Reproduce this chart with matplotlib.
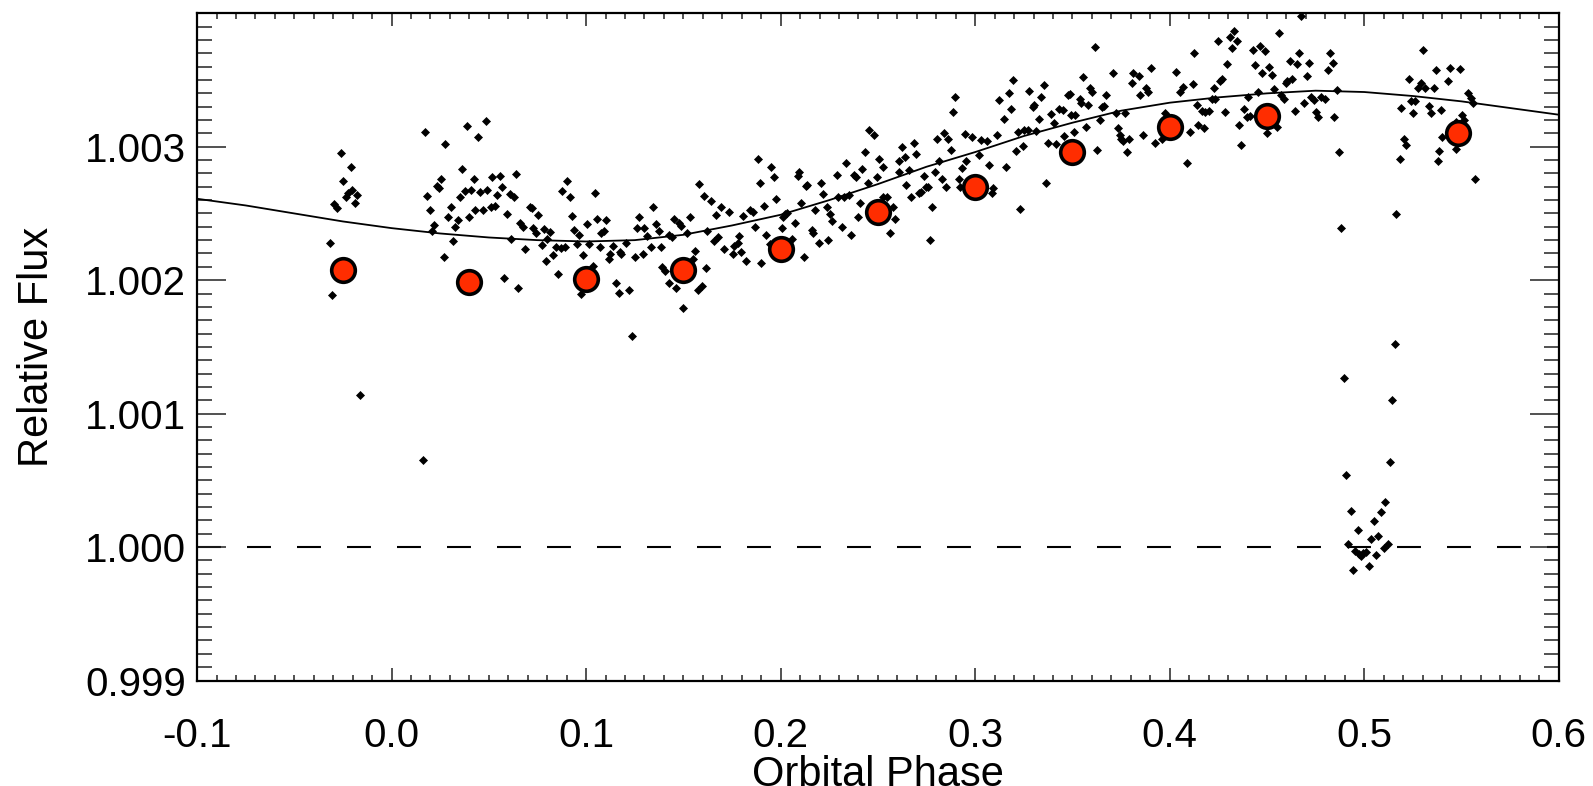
import matplotlib
matplotlib.use("Agg")
import matplotlib.pyplot as plt
from matplotlib.ticker import MultipleLocator, FormatStrFormatter, FixedLocator

plt.rcParams['font.family'] = ['Liberation Sans', 'DejaVu Sans']
plt.rcParams['axes.unicode_minus'] = False

# ---- individual observations (phase, relative flux) ----
obs_phase = [
    -0.0258, -0.0210, -0.0248, -0.0205, -0.0222, -0.0236, -0.0176, -0.0188, -0.0296, -0.0279, -0.0317, -0.0305, -0.0163, 0.0160,
    0.0172, 0.0277, 0.0386, 0.0483, 0.0446, 0.0364, 0.0422, 0.0255, 0.0233, 0.0243, 0.0183, 0.0195, 0.0350, 0.0376, 0.0410,
    0.0457, 0.0493, 0.0517, 0.0557, 0.0567, 0.0543, 0.0608, 0.0629, 0.0639, 0.0303, 0.0290, 0.0340, 0.0326, 0.0398, 0.0431,
    0.0470, 0.0510, 0.0531, 0.0591, 0.0220, 0.0207, 0.0315, 0.0267, 0.0613, 0.0711, 0.0724, 0.0755, 0.0660, 0.0677, 0.0729,
    0.0742, 0.0686, 0.0579, 0.0650,
    0.0781, 0.0815, 0.0798, 0.0772, 0.0846, 0.0870, 0.0893, 0.0832, 0.0794, 0.0853, 0.0901, 0.0875, 0.0915, 0.0927, 0.0936,
    0.0961, 0.0953, 0.0984, 0.1013, 0.1004, 0.1044, 0.1056, 0.1104, 0.1090, 0.1078, 0.1070, 0.1035, 0.0973, 0.1139, 0.1125,
    0.1117, 0.1180, 0.1173, 0.1203, 0.1156, 0.1168, 0.1220, 0.1249, 0.1272, 0.1263, 0.1297, 0.1315, 0.1332, 0.1344, 0.1358,
    0.1375, 0.1384, 0.1294, 0.1392, 0.1404, 0.1427, 0.1461, 0.1452, 0.1478, 0.1487, 0.1535, 0.1427, 0.1444, 0.1521, 0.1559,
    0.1547, 0.1616, 0.1595, 0.1573, 0.1499, 0.1237, 0.1580, 0.1607, 0.1641, 0.1667, 0.1693, 0.1737, 0.1624, 0.1659, 0.1676,
    0.1711, 0.1754, 0.1762, 0.1780, 0.1788, 0.1797, 0.1823, 0.1805, 0.1840, 0.1857, 0.1866, 0.1883, 0.1892, 0.1897,
    0.1952, 0.1966, 0.1978, 0.1917, 0.2024, 0.2012, 0.2035, 0.2073, 0.2007, 0.1926, 0.1943, 0.2056, 0.2121, 0.2087, 0.2093,
    0.2138, 0.2128, 0.2107, 0.2207, 0.2219, 0.2179, 0.2236, 0.2253, 0.2266, 0.2159, 0.2167, 0.2196, 0.2241, 0.2314, 0.2362,
    0.2288, 0.2334, 0.2379, 0.2386, 0.2417, 0.2434, 0.2455, 0.2478, 0.2504, 0.2524, 0.2448, 0.2495, 0.2297, 0.2328, 0.2352,
    0.2409, 0.2396, 0.2524, 0.2546, 0.2576, 0.2589, 0.2563, 0.2607, 0.2624, 0.2638, 0.2684, 0.2696, 0.2658, 0.2609, 0.2736,
    0.2645, 0.2719, 0.2672, 0.2710, 0.2745, 0.2758, 0.2779, 0.2767, 0.2805, 0.2839, 0.2860, 0.2877, 0.2814, 0.2793, 0.2831,
    0.2848, 0.2888, 0.2896, 0.2917, 0.2920, 0.2934, 0.2955, 0.2948, 0.2985, 0.3020, 0.3029,
    0.3094, 0.3089, 0.3614, 0.3196, 0.3172, 0.3123, 0.3184, 0.3149, 0.3110, 0.3063, 0.3072, 0.3158, 0.3210, 0.3244, 0.3218,
    0.3253, 0.3270, 0.3313, 0.3278, 0.3295, 0.3304, 0.3339, 0.3352, 0.3327, 0.3365, 0.3230, 0.3390, 0.3407, 0.3433, 0.3451,
    0.3373, 0.3416, 0.3459, 0.3494, 0.3511, 0.3477, 0.3485, 0.3537, 0.3546, 0.3554, 0.3580, 0.3589, 0.3603, 0.3568, 0.3506,
    0.3640, 0.3626, 0.3654, 0.3661, 0.3675, 0.3710, 0.3723, 0.3735, 0.3770, 0.3744, 0.3752, 0.3761, 0.3792, 0.3782, 0.3804,
    0.3813, 0.3844, 0.3847, 0.3878, 0.3890, 0.3902, 0.3864, 0.3924, 0.3959, 0.3976, 0.4033, 0.4067, 0.4053, 0.4119, 0.4127,
    0.4139, 0.4165, 0.4148, 0.4105, 0.4091,
    0.4247, 0.4308, 0.4333, 0.4347, 0.4321, 0.4295, 0.4269, 0.4257, 0.4226, 0.4217, 0.4234, 0.4200, 0.4183, 0.4174, 0.4286,
    0.4355, 0.4381, 0.4395, 0.4415, 0.4403, 0.4367, 0.4429, 0.4463, 0.4488, 0.4441, 0.4476, 0.4510, 0.4527, 0.4453, 0.4562,
    0.4536, 0.4574, 0.4588, 0.4498, 0.4550, 0.4596, 0.4605, 0.4631, 0.4619, 0.4665, 0.4653, 0.4717, 0.4705, 0.4643, 0.4691,
    0.4726, 0.4740, 0.4751, 0.4763, 0.4777, 0.4798, 0.4826, 0.4838, 0.4812, 0.4847, 0.4861, 0.4872, 0.4881, 0.4677, 0.5165,
    0.5182, 0.5204, 0.5216, 0.5190, 0.5228, 0.5251, 0.5277, 0.5291, 0.5303, 0.5311, 0.5332, 0.5342, 0.5359, 0.5371, 0.5380,
    0.5397, 0.5401, 0.5239, 0.5263,
    0.5440, 0.5493, 0.5429, 0.5532, 0.5550, 0.5559, 0.5505, 0.5515, 0.5470, 0.5470, 0.5568, 0.5386,
    0.5160, 0.4894, 0.5144, 0.5134, 0.4906, 0.4932, 0.5109, 0.5087, 0.5049, 0.4967, 0.4918, 0.5035, 0.5073, 0.5121, 0.5100,
    0.4954, 0.4975, 0.4993, 0.5010, 0.4984, 0.5061, 0.5027, 0.4941,
]
obs_flux = [
    1.00295, 1.00285, 1.002745, 1.002675, 1.00265, 1.00262, 1.00264, 1.00258, 1.00257, 1.00254, 1.002275, 1.00189, 1.001143, 1.00065,
    1.00311, 1.00302, 1.003155, 1.003195, 1.00307, 1.00283, 1.00276, 1.002755, 1.002705, 1.00269, 1.00263, 1.002525, 1.00262, 1.00267, 1.002675,
    1.00266, 1.002675, 1.00277, 1.00278, 1.002695, 1.00264, 1.002645, 1.002625, 1.002795, 1.002545, 1.00247, 1.00245, 1.002395, 1.002475, 1.002525,
    1.002525, 1.002545, 1.002555, 1.002495, 1.00241, 1.00237, 1.00229, 1.002175, 1.00231, 1.002545, 1.00254, 1.00249, 1.002425, 1.0024, 1.00239,
    1.00235, 1.00223, 1.00202, 1.00194,
    1.00238, 1.00236, 1.00231, 1.00226, 1.00225, 1.00224, 1.00225, 1.00219, 1.00214, 1.002045, 1.002745, 1.00267, 1.00262, 1.00248, 1.002375,
    1.00234, 1.00227, 1.00219, 1.00227, 1.00242, 1.00265, 1.00246, 1.00245, 1.00237, 1.00235, 1.00225, 1.002105, 1.001895, 1.002255, 1.002195,
    1.00216, 1.002195, 1.00221, 1.00228, 1.00198, 1.001905, 1.001925, 1.00217, 1.00247, 1.00239, 1.00239, 1.00233, 1.00225, 1.002545, 1.00242,
    1.00237, 1.00225, 1.002195, 1.0021, 1.00207, 1.00198, 1.00194, 1.00246, 1.00243, 1.002405, 1.00247, 1.00234, 1.00232, 1.002355, 1.00222,
    1.002155, 1.00209, 1.00196, 1.001925, 1.001795, 1.00158, 1.00272, 1.00263, 1.002595, 1.00249, 1.002545, 1.00251, 1.00237, 1.00229, 1.00232,
    1.00223, 1.002195, 1.002255, 1.002275, 1.00233, 1.00221, 1.00214, 1.00248, 1.002525, 1.00251, 1.0024, 1.002905, 1.00273, 1.002125,
    1.002845, 1.00277, 1.00261, 1.002555, 1.002495, 1.002475, 1.002505, 1.00243, 1.00239, 1.00234, 1.00227, 1.00231, 1.00217, 1.00278, 1.00281,
    1.00271, 1.002705, 1.002575, 1.00273, 1.002645, 1.002525, 1.00255, 1.002495, 1.00244, 1.002375, 1.002355, 1.00228, 1.0023, 1.0024, 1.00234,
    1.00279, 1.002875, 1.00279, 1.00277, 1.00283, 1.00296, 1.003125, 1.00309, 1.002905, 1.00285, 1.00273, 1.00277, 1.002625, 1.002625, 1.00264,
    1.00258, 1.00247, 1.00262, 1.002625, 1.00255, 1.002455, 1.002355, 1.002895, 1.003, 1.002925, 1.00303, 1.002945, 1.002825, 1.00281, 1.00278,
    1.00271, 1.00266, 1.002625, 1.00265, 1.0027, 1.0027, 1.00255, 1.0023, 1.003055, 1.003105, 1.00306, 1.002975, 1.002895, 1.00281, 1.002755,
    1.0027, 1.00326, 1.00337, 1.00276, 1.0027, 1.00284, 1.00289, 1.003095, 1.00307, 1.00294, 1.00305,
    1.00269, 1.002655, 1.003745, 1.0035, 1.003405, 1.00335, 1.00328, 1.003205, 1.00309, 1.003045, 1.00286, 1.00285, 1.00297, 1.003005, 1.00311,
    1.003125, 1.003125, 1.00312, 1.00342, 1.0033, 1.00331, 1.00337, 1.00346, 1.00321, 1.00273, 1.00253, 1.003245, 1.00318, 1.00328, 1.003275,
    1.00303, 1.00302, 1.00308, 1.00324, 1.00324, 1.00339, 1.003395, 1.003355, 1.003325, 1.003525, 1.00331, 1.00344, 1.00341, 1.003145, 1.00311,
    1.0032, 1.002975, 1.003295, 1.003305, 1.00339, 1.00355, 1.003255, 1.00314, 1.00325, 1.00309, 1.003055, 1.00304, 1.00306, 1.00296, 1.00348,
    1.00355, 1.00353, 1.00339, 1.00344, 1.00341, 1.00359, 1.00309, 1.00303, 1.00306, 1.003255, 1.00356, 1.00345, 1.00341, 1.00347, 1.003705,
    1.00331, 1.00327, 1.00316, 1.00311, 1.00288,
    1.003795, 1.003825, 1.00387, 1.00379, 1.00374, 1.00362, 1.00351, 1.003495, 1.00344, 1.00336, 1.00336, 1.00327, 1.00326, 1.00314, 1.00326,
    1.00316, 1.00328, 1.00322, 1.00323, 1.00337, 1.00301, 1.003725, 1.003755, 1.00372, 1.00361, 1.00355, 1.003595, 1.00354, 1.00341, 1.003855,
    1.00343, 1.00339, 1.003355, 1.003105, 1.003145, 1.003475, 1.00349, 1.003505, 1.003645, 1.003705, 1.00362, 1.00363, 1.00353, 1.00327, 1.00333,
    1.00337, 1.00335, 1.00326, 1.003225, 1.00337, 1.00336, 1.003705, 1.00363, 1.003575, 1.00322, 1.003425, 1.00296, 1.00239, 1.00398, 1.002495,
    1.00291, 1.00306, 1.00301, 1.00329, 1.00351, 1.003255, 1.00344, 1.00348, 1.003725, 1.00344, 1.003305, 1.00325, 1.00344, 1.003575, 1.00289,
    1.003275, 1.00307, 1.003345, 1.003345,
    1.00359, 1.00358, 1.00349, 1.003405, 1.003365, 1.00333, 1.003235, 1.0032, 1.003185, 1.00298, 1.00276, 1.002965,
    1.00152, 1.00127, 1.001105, 1.00064, 1.00054, 1.00027, 1.00034, 1.00026, 1.000195, 1.00013, 1.00002, 1.00006, 1.00008, 1.000025, 0.999995,
    0.99997, 0.999945, 0.999955, 0.99996, 0.99993, 0.99994, 0.99986, 0.999825,
]

# ---- binned points ----
bin_phase = [-0.025, 0.040, 0.100, 0.150, 0.200, 0.250, 0.300, 0.350, 0.400, 0.450, 0.548]
bin_flux = [1.00208, 1.00199, 1.00201, 1.00208, 1.00223, 1.00251, 1.00270, 1.00296, 1.00315, 1.00323, 1.00310]

# ---- phase-curve model ----
model_phase = [-0.100, -0.075, -0.050, -0.025, 0.000, 0.025, 0.050, 0.075, 0.100, 0.125, 0.150, 0.175,
               0.200, 0.225, 0.250, 0.275, 0.300, 0.325, 0.350, 0.375, 0.400, 0.425, 0.450, 0.475,
               0.500, 0.525, 0.550, 0.575, 0.600]
model_flux = [1.00261, 1.00256, 1.00250, 1.00244, 1.00239, 1.00235, 1.00232, 1.00230, 1.00229, 1.00230, 1.00234, 1.00241,
              1.00249, 1.00260, 1.00272, 1.00285, 1.00296, 1.00308, 1.00318, 1.00327, 1.00333, 1.00337, 1.00340, 1.00342,
              1.00341, 1.00338, 1.00334, 1.00329, 1.00324]

x_ticks = [-0.1, 0.0, 0.1, 0.2, 0.3, 0.4, 0.5, 0.6]
y_ticks = [0.999, 1.000, 1.001, 1.002, 1.003]

fig = plt.figure(figsize=(15.93, 7.86), dpi=100)
ax = fig.add_axes([0.1237, 0.1342, 0.8548, 0.8489])

ax.axhline(1.0, color='black', lw=1.5, dashes=(11.5, 12.5), zorder=1)
ax.plot(model_phase, model_flux, color='black', lw=1.3, zorder=2)
ax.plot(obs_phase, obs_flux, linestyle='none', marker='D', ms=4.4, mfc='black', mec='black', mew=0.5, zorder=3)
ax.plot(bin_phase, bin_flux, linestyle='none', marker='o', ms=17, mfc='#ff2d00', mec='black', mew=2.6, zorder=4)

ax.set_xlim(-0.1, 0.6)
ax.set_ylim(0.999, 1.004)

ax.xaxis.set_major_locator(FixedLocator(x_ticks))
ax.xaxis.set_minor_locator(MultipleLocator(0.01))
ax.xaxis.set_major_formatter(FormatStrFormatter('%.1f'))
ax.yaxis.set_major_locator(FixedLocator(y_ticks))
ax.yaxis.set_minor_locator(MultipleLocator(0.0001))
ax.yaxis.set_major_formatter(FormatStrFormatter('%.3f'))

ax.tick_params(axis='both', which='both', direction='in', top=True, right=True, color='#222222', width=1.1)
ax.tick_params(axis='x', which='major', length=9.5, pad=26, labelsize=29)
ax.tick_params(axis='x', which='minor', length=4.5)
ax.tick_params(axis='y', which='major', length=21, pad=8, labelsize=29)
ax.tick_params(axis='y', which='minor', length=11)

for s in ax.spines.values():
    s.set_linewidth(1.6)
    s.set_color('black')

ax.set_xlabel('Orbital Phase', fontsize=30, labelpad=0)
ax.set_ylabel('Relative Flux', fontsize=30, labelpad=20)

fig.savefig('out.png', dpi=100)
